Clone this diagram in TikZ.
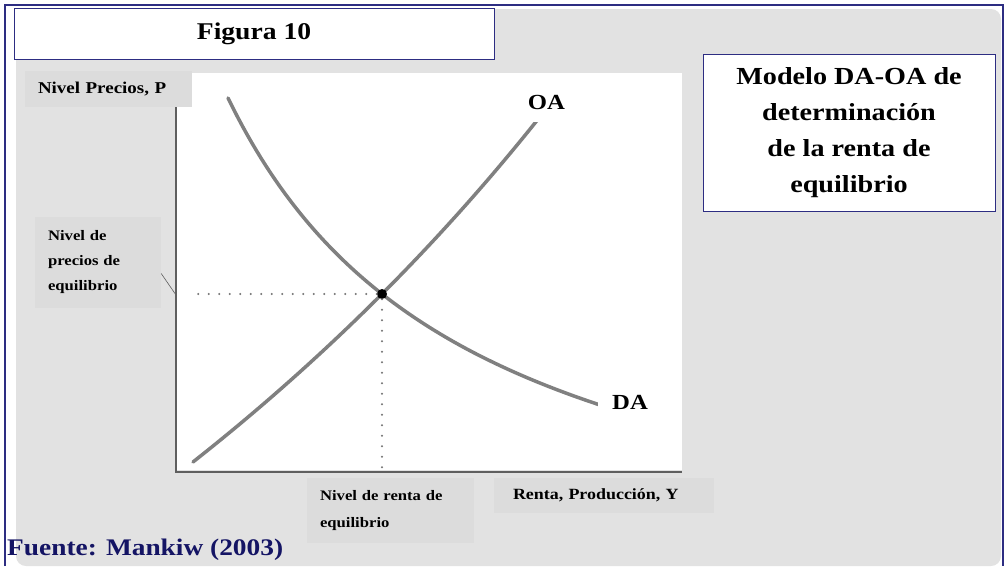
\documentclass[tikz,border=0pt]{standalone}
\usepackage{fontspec}
\setmainfont{Liberation Serif}[FakeStretch=1.15]
\usepackage{tikz}
\usetikzlibrary{positioning, calc}
\definecolor{marco}{RGB}{45,45,130}
\definecolor{fuente}{RGB}{20,20,100}
\definecolor{fondo}{RGB}{226,226,226}
\definecolor{cajagris}{RGB}{220,220,220}
\definecolor{curvagris}{RGB}{128,128,128}
\definecolor{ejegris}{RGB}{95,95,95}

\begin{document}
\begin{tikzpicture}[x=1pt, y=-1pt,
        panel/.style={draw=marco, line width=1pt, fill=white, align=center, font=\bfseries, inner sep=0pt},
        etiqueta/.style={fill=cajagris, inner ysep=0pt, inner xsep=13pt, align=left, font=\bfseries\fontsize{14.5}{25}\selectfont},
        curvalbl/.style={fill=white, inner sep=0pt, font=\bfseries\fontsize{21.5}{24}\selectfont},
        curva/.style={draw=curvagris, line width=3.5pt, line cap=round},
        guia/.style={draw=black!55, line width=2.2pt, line cap=round, dash pattern=on 0pt off 10.5pt},
        eje/.style={draw=ejegris, line width=1.3pt},
        enlace/.style={draw=ejegris, line width=0.6pt}
    ]

        \useasboundingbox (0,0) rectangle (1006,566);
        \fill[white] (0,0) rectangle (1006,566);
        \fill[fondo, rounded corners=10pt] (16,9) rectangle (1001,566);
        \draw[marco, line width=1.5pt] (5,566) -- (5,5) -- (1003,5) -- (1003,566);
        \fill[white] (176,73) rectangle (682,470);

        
        \node[panel, minimum width=480pt, minimum height=51pt, font=\bfseries\fontsize{24}{26}\selectfont] (titulo) at (254,33.5) {Figura 10};
        \node[panel, minimum width=292pt, minimum height=157pt, font=\bfseries\fontsize{24.5}{36}\selectfont] (modelo) at (849,132.5)
            {Modelo DA-OA de\\determinación\\de la renta de\\equilibrio};

        
        \draw[curva] plot[domain=228:602, samples=80] (\x, {609.7 - 126.927/(\x/1000 + 0.02005)});
        \draw[curva] plot[domain=193:546, samples=80] (\x, {1779.3 - 2201.264/(1.864 - \x/1000)});

        \node[curvalbl, minimum width=67pt, minimum height=40pt] (oa) at (546.5,102) {OA};
        \node[curvalbl, minimum width=64pt, minimum height=45pt] (da) at (630,402.5) {DA};

        
        \coordinate (origen) at (176,472);
        \coordinate (ytope) at (176,107);
        \coordinate (xfin) at (682,472);
        \draw[eje] (ytope) -- (origen) -- (xfin);

        
        \node[circle, fill=black, inner sep=0pt, minimum size=10pt] (eq) at (382,294) {};
        \coordinate (peq) at (192,294);
        \coordinate (yeq) at (382,472);
        \draw[guia] (eq) -- (peq);
        \draw[guia] (eq) -- (yeq);

        
        \node[etiqueta, text width=141pt, minimum height=36pt, font=\bfseries\fontsize{16.5}{20}\selectfont] (ejep) at (108.5,89) {Nivel Precios, P};
        \node[etiqueta, text width=100pt, minimum height=91pt] (nivelp) at (98,262.5) {Nivel de\\precios de\\equilibrio};
        \node[etiqueta, text width=141pt, minimum height=65pt, font=\bfseries\fontsize{14.5}{27}\selectfont] (nively) at (390.5,510.5) {Nivel de renta de\\equilibrio};
        \node[etiqueta, text width=182pt, inner xsep=19pt, minimum height=35pt, font=\bfseries\fontsize{15.6}{20}\selectfont] (ejey) at (604,495.5) {Renta, Producción, Y};

        \coordinate (ptick) at (176,295);
        \draw[enlace] ([yshift=-11pt]nivelp.east) -- (ptick);

        
        \node[anchor=base west, text=fuente, inner sep=0pt, font=\bfseries\fontsize{23.8}{26}\selectfont] (cita) at (7,555) {Fuente: Mankiw (2003)};

    \end{tikzpicture}
\end{document}
